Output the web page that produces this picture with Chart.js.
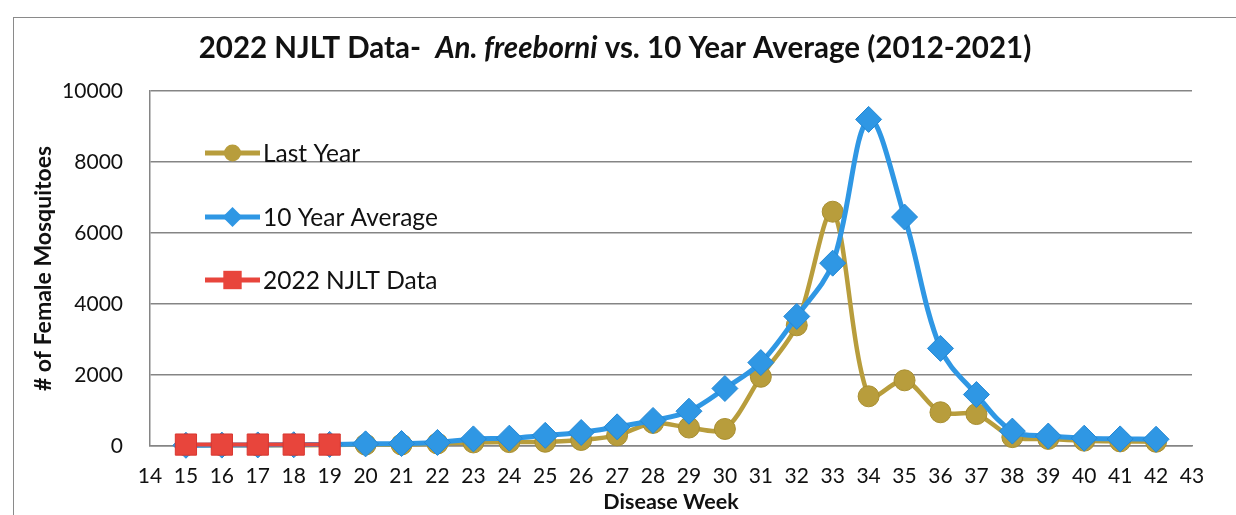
<!DOCTYPE html>
<html>
<head>
<meta charset="utf-8">
<script src="https://cdn.jsdelivr.net/npm/chart.js@4.4.0/dist/chart.umd.min.js"></script>
<style>
  html, body { margin: 0; padding: 0; background: #fff; }
  #wrap { position: relative; width: 1236px; height: 515px; overflow: hidden; }
  #frame { position: absolute; left: 13px; top: 17px; width: 1300px; height: 600px; border: 1.5px solid #8a8a8a; }
  canvas { position: absolute; left: 0; top: 0; }
</style>
</head>
<body>
<div id="wrap">
  <div id="frame"></div>
  <canvas id="c" width="1236" height="515"></canvas>
</div>
<script>
// ---- data ----
const weeks = [15,16,17,18,19,20,21,22,23,24,25,26,27,28,29,30,31,32,33,34,35,36,37,38,39,40,41,42];
const lastYear = [20,20,20,20,30,40,40,70,100,110,120,170,300,650,520,480,1950,3400,6600,1400,1850,950,900,250,200,150,130,120];
const avg10 = [20,25,30,35,45,60,70,100,200,220,300,380,540,720,980,1620,2350,3650,5150,9200,6450,2750,1450,420,280,220,200,190];
const njltWeeks = [15,16,17,18,19];
const njlt2022 = [40,40,40,40,40];
const yTicks = [0,2000,4000,6000,8000,10000];
const xTickMin = 14, xTickMax = 43;

const GOLD = '#B89D3C', BLUE = '#2F97E4', RED = '#E8453C';
const FONT = 'Lato, "Open Sans", sans-serif';

const toXY = (xs, ys) => xs.map((x, i) => ({x: x, y: ys[i]}));

const titlePlugin = {
  id: 'mixedTitle',
  afterDraw(chart) {
    const ctx = chart.ctx;
    const parts = [
      {t: '2022 NJLT Data-  ', f: 'bold 29.5px ' + FONT},
      {t: 'An. freeborni', f: 'italic bold 29.5px ' + FONT},
      {t: ' vs. 10 Year Average (2012-2021)', f: 'bold 29.5px ' + FONT}
    ];
    ctx.save();
    let total = 0;
    parts.forEach(p => { ctx.font = p.f; p.w = ctx.measureText(p.t).width; total += p.w; });
    let x = 615 - total / 2;
    ctx.fillStyle = '#111';
    ctx.textBaseline = 'middle';
    ctx.textAlign = 'left';
    parts.forEach(p => { ctx.font = p.f; ctx.fillText(p.t, x, 48); x += p.w; });
    ctx.restore();
  }
};

function shape(ctx, style, x, y, r) {
  ctx.beginPath();
  if (style === 'circle') {
    ctx.arc(x, y, r, 0, Math.PI * 2);
  } else if (style === 'rectRot') {
    ctx.moveTo(x, y - r); ctx.lineTo(x + r, y); ctx.lineTo(x, y + r); ctx.lineTo(x - r, y); ctx.closePath();
  } else {
    const s = r * Math.SQRT1_2;
    ctx.rect(x - s, y - s, 2 * s, 2 * s);
  }
  ctx.fill();
}

const legendPlugin = {
  id: 'innerLegend',
  afterDraw(chart) {
    const ctx = chart.ctx;
    const a = chart.chartArea;
    const order = [2, 1, 0];
    const rows = [62, 126, 189];
    const sizes = [8.5, 10, 13];
    ctx.save();
    order.forEach((di, k) => {
      const ds = chart.data.datasets[di];
      const y = a.top + rows[k];
      const x0 = a.left + 55, x1 = a.left + 110, xm = (x0 + x1) / 2;
      ctx.strokeStyle = ds.borderColor;
      ctx.lineWidth = 5;
      ctx.beginPath(); ctx.moveTo(x0, y); ctx.lineTo(x1, y); ctx.stroke();
      ctx.fillStyle = ds.borderColor;
      shape(ctx, ds.pointStyle, xm, y, sizes[k]);
      ctx.fillStyle = '#111';
      ctx.font = '24.5px ' + FONT;
      ctx.textBaseline = 'middle';
      ctx.textAlign = 'left';
      ctx.fillText(ds.label, x1 + 3, y + 1);
    });
    ctx.restore();
  }
};

new Chart(document.getElementById('c'), {
  type: 'line',
  data: {
    datasets: [
      {
        label: '2022 NJLT Data',
        data: toXY(njltWeeks, njlt2022),
        borderColor: RED, backgroundColor: RED,
        pointBackgroundColor: RED, pointBorderColor: '#D8362F',
        borderWidth: 4, pointStyle: 'rect', pointRadius: 15, pointBorderWidth: 1,
        tension: 0, clip: false
      },
      {
        label: '10 Year Average',
        data: toXY(weeks, avg10),
        borderColor: BLUE, backgroundColor: BLUE,
        pointBackgroundColor: BLUE, pointBorderColor: '#2488D4',
        borderWidth: 5, pointStyle: 'rectRot', pointRadius: 13, pointBorderWidth: 1,
        tension: 0.35, clip: false
      },
      {
        label: 'Last Year',
        data: toXY(weeks, lastYear),
        borderColor: GOLD, backgroundColor: GOLD,
        pointBackgroundColor: GOLD, pointBorderColor: '#A88E30',
        borderWidth: 4.5, pointStyle: 'circle', pointRadius: 10.5, pointBorderWidth: 1,
        tension: 0.3, clip: false
      }
    ]
  },
  options: {
    responsive: false,
    animation: false,
    devicePixelRatio: 1,
    layout: { padding: { top: 91, right: 44, left: 0, bottom: 0 } },
    plugins: { legend: { display: false }, title: { display: false }, tooltip: { enabled: false } },
    scales: {
      x: {
        type: 'linear', min: xTickMin, max: xTickMax,
        afterFit(s) { s.height = 69; },
        afterBuildTicks(s) { s.ticks = []; for (let v = xTickMin; v <= xTickMax; v++) s.ticks.push({value: v}); },
        grid: { display: false, drawTicks: false },
        border: { display: true, color: '#858585', width: 1.5 },
        ticks: { color: '#111', font: { family: FONT, size: 21 }, padding: 18, maxRotation: 0, autoSkip: false, callback: v => String(v) },
        title: { display: true, text: 'Disease Week', color: '#111', font: { family: FONT, size: 21.5, weight: 'bold' }, padding: { top: 0, bottom: 0 } }
      },
      y: {
        min: 0, max: 10000,
        afterFit(s) { s.width = 150; },
        afterBuildTicks(s) { s.ticks = yTicks.map(v => ({value: v})); },
        grid: { color: '#858585', lineWidth: 1.5, drawTicks: false },
        border: { display: true, color: '#858585', width: 1.5 },
        ticks: { color: '#111', font: { family: FONT, size: 21 }, padding: 27, callback: v => String(v) },
        title: { display: true, text: '# of Female Mosquitoes', color: '#111', font: { family: FONT, size: 23, weight: 'bold' }, padding: { top: 30, bottom: 0 } }
      }
    }
  },
  plugins: [titlePlugin, legendPlugin]
});
</script>
</body>
</html>
